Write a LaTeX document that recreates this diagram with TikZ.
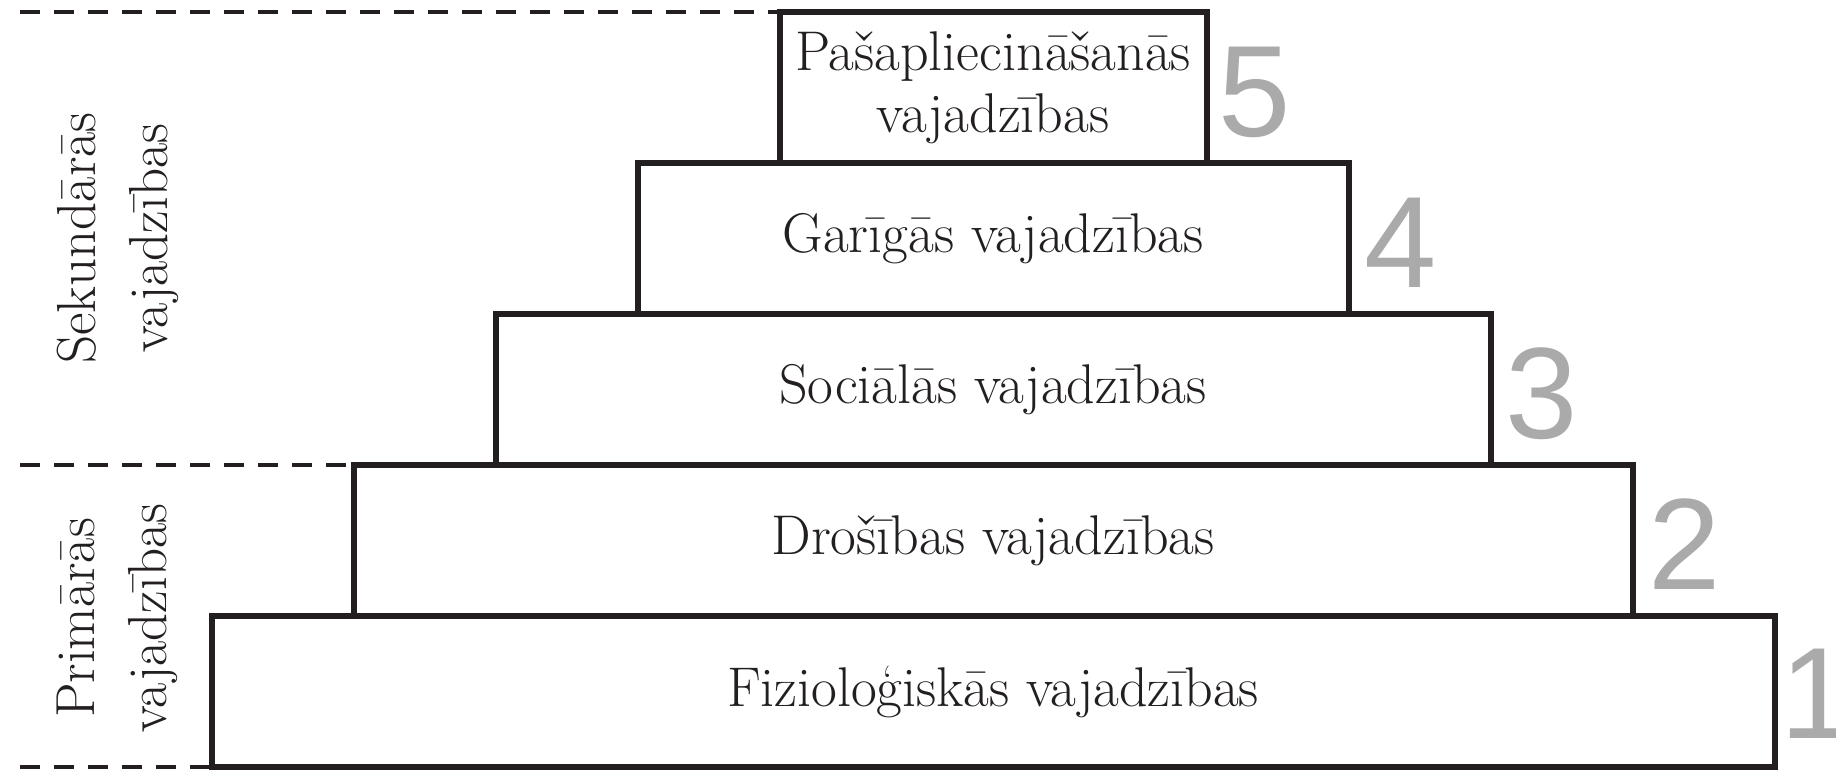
\documentclass[tikz,border=0pt]{standalone}
\usepackage{fontspec}
\newfontfamily\numfont{Liberation Sans}
\usetikzlibrary{positioning}
\definecolor{inkblack}{RGB}{35,31,32}
\definecolor{levelgray}{RGB}{170,170,170}
\tikzset{
    level/.style={draw=inkblack, line width=3pt, outer sep=0pt, inner sep=0pt, minimum height=75.5pt,
        align=center, text=inkblack, font=\fontsize{28}{31}\selectfont},
    levelnum/.style={text=levelgray, inner sep=0pt, anchor=base west, font=\numfont\fontsize{65}{65}\selectfont},
    group/.style={rotate=90, align=center, inner sep=0pt, text=inkblack, font=\fontsize{27.5}{36}\selectfont},
    divider/.style={draw=inkblack, line width=2pt, dash pattern=on 10pt off 7pt}
}
\begin{document}
\begin{tikzpicture}
    \useasboundingbox (0, 0) rectangle (918pt, 385pt);
    \node[level, minimum width=781.5pt] (fiz) at (496.5pt, 39.25pt) {Fizioloģiskās vajadzības};
    \node[level, minimum width=639.5pt, above=0pt of fiz] (dros) {Drošības vajadzības};
    \node[level, minimum width=497.5pt, above=0pt of dros] (soc) {Sociālās vajadzības};
    \node[level, minimum width=355.5pt, above=0pt of soc] (gar) {Garīgās vajadzības};
    \node[level, minimum width=213.5pt, above=0pt of gar] (pas) {Pašapliecināšanās\\vajadzības};
    \node[levelnum] (n1) at ([xshift=3pt, yshift=14pt]fiz.south east) {\makebox[0.38em][l]{1}};
    \node[levelnum] (n2) at ([xshift=8pt, yshift=13pt]dros.south east) {2};
    \node[levelnum] (n3) at ([xshift=7.5pt, yshift=13pt]soc.south east) {3};
    \node[levelnum] (n4) at ([xshift=8pt, yshift=13pt]gar.south east) {4};
    \node[levelnum] (n5) at ([xshift=6pt, yshift=13pt]pas.south east) {5};
    \coordinate (edge) at (10pt, 0);
    \draw[divider] (edge |- pas.north west) -- (pas.north west);
    \draw[divider] (edge |- dros.north west) -- (dros.north west);
    \draw[divider] (edge |- fiz.south west) -- (fiz.south west);
    \node[group] (sek) at (58.75pt, 266pt) {Sekundārās\\vajadzības};
    \node[group] (prim) at (58.75pt, 76pt) {Primārās\\vajadzības};
\end{tikzpicture}
\end{document}
